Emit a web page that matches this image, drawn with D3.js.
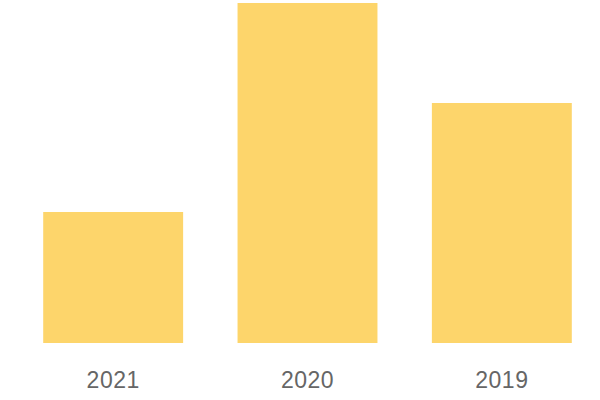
<!DOCTYPE html>
<html><head><meta charset="utf-8">
<script src="https://cdn.jsdelivr.net/npm/d3@7"></script>
<style>body{margin:0;background:#fff}</style>
</head><body>
<svg id="chart" width="600" height="400"></svg>
<script>
const categories = ["2021", "2020", "2019"];
const values = [131, 340, 240];

const svg = d3.select("#chart");
const x = d3.scaleBand().domain(categories).range([16, 599]).paddingInner(0.28).paddingOuter(0.14);
const y = d3.scaleLinear().domain([0, 340]).range([343, 3]);

svg.selectAll("rect.bar").data(categories).enter().append("rect")
  .attr("class", "bar")
  .attr("x", d => x(d))
  .attr("width", x.bandwidth())
  .attr("y", (d, i) => y(values[i]))
  .attr("height", (d, i) => y(0) - y(values[i]))
  .attr("fill", "#FDD56B");

const axis = svg.append("g").attr("transform", "translate(0,343)")
  .call(d3.axisBottom(x).tickSize(0).tickPadding(0));
axis.select(".domain").remove();
axis.selectAll("text")
  .attr("dy", null)
  .attr("y", 45)
  .attr("fill", "#666")
  .style("font-family", "Liberation Sans, Arial, sans-serif")
  .style("font-size", "23px")
  .style("letter-spacing", "0.5px");
</script>
</body></html>
